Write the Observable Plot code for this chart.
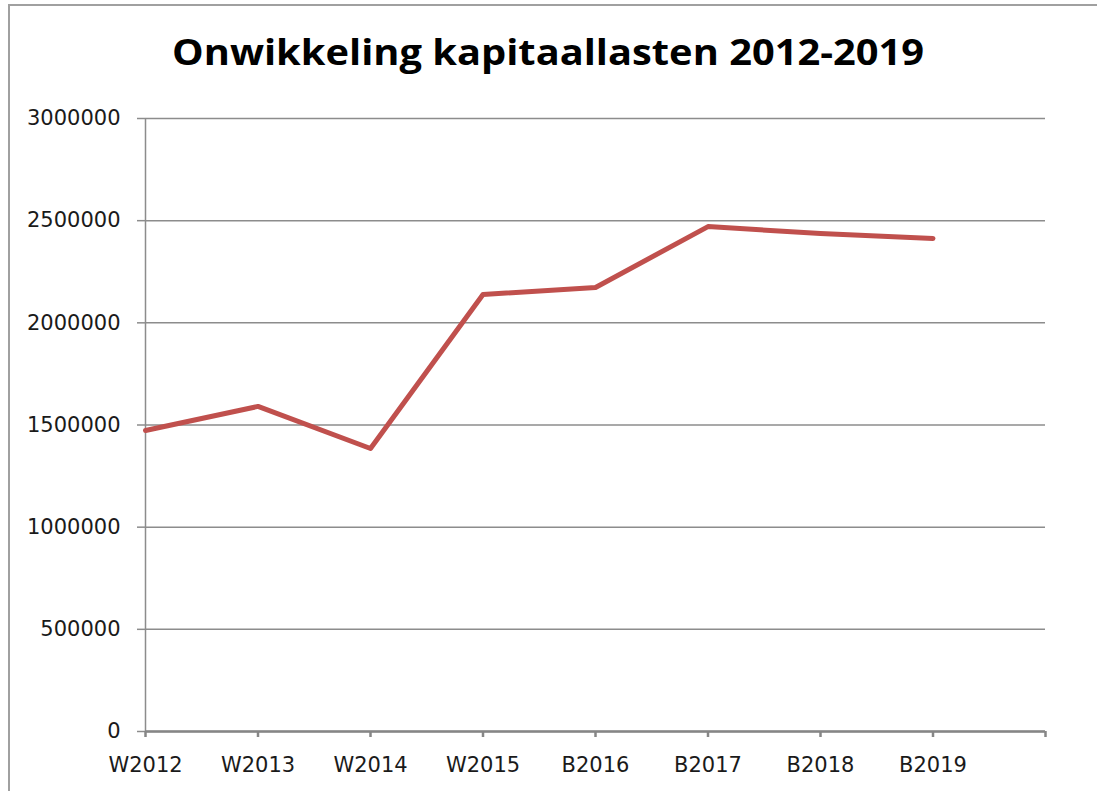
<!DOCTYPE html>
<html><head><meta charset="utf-8">
<script src="https://cdn.jsdelivr.net/npm/d3@7"></script>
<script src="https://cdn.jsdelivr.net/npm/@observablehq/plot@0.6"></script>
<style>
body{margin:0;background:#fff;}
#wrap{position:relative;width:1097px;height:791px;overflow:hidden;background:#fff;}
#frame{position:absolute;left:8px;top:4px;width:1200px;height:900px;border:2px solid #a0a0a0;box-sizing:border-box;}
#title{position:absolute;left:0;top:32px;width:1097px;text-align:center;font-family:"Open Sans",sans-serif;font-weight:700;font-size:36px;line-height:40px;color:#000;white-space:nowrap;}
#title span{display:inline-block;transform-origin:50% 50%;}
#chart{position:absolute;left:0;top:100px;}
</style></head>
<body>
<div id="wrap">
  <div id="frame"></div>
  <div id="title"><span id="tspan">Onwikkeling kapitaallasten 2012-2019</span></div>
  <div id="chart"></div>
</div>
<script>
const categories = ["W2012","W2013","W2014","W2015","B2016","B2017","B2018","B2019"];
const values = [1473000,1591000,1385000,2139000,2173000,2471000,2437000,2413000];
const yTicks = [0,500000,1000000,1500000,2000000,2500000,3000000];
const xTicks = [0,1,2,3,4,5,6,7,8];

const data = categories.map((c,i)=>({i, c, v: values[i]}));

const chart = Plot.plot({
  width:1097, height:691,
  marginLeft:145, marginRight:52, marginTop:18, marginBottom:60,
  style:{fontFamily:"DejaVu Sans", fontSize:"21px", color:"#1a1a1a", background:"transparent", overflow:"visible"},
  x:{domain:[0,8], axis:null},
  y:{domain:[0,3000000], axis:null},
  marks:[
    Plot.gridY(yTicks, {stroke:"#8c8c8c", strokeOpacity:1, strokeWidth:1.5}),
    Plot.ruleX([0], {stroke:"#8c8c8c", strokeWidth:1.5}),
    Plot.ruleY([0], {stroke:"#868686", strokeWidth:2.5}),
    Plot.axisY({ticks:yTicks, tickSize:8, tickPadding:17, tickFormat:d=>String(d), label:null, stroke:"#8c8c8c", strokeWidth:1.5, fill:"#1a1a1a"}),
    Plot.axisX({ticks:xTicks, tickSize:6, tickPadding:20, tickFormat:i=>categories[i] ?? "", label:null, stroke:"#868686", strokeWidth:2.5, fill:"#1a1a1a"}),
    Plot.line(data, {x:"i", y:"v", stroke:"#c0504d", strokeWidth:5, strokeLinejoin:"round", strokeLinecap:"round"})
  ]
});
document.getElementById("chart").appendChild(chart);

const ts = document.getElementById("tspan");
const w = ts.getBoundingClientRect().width;
ts.style.transform = `scaleX(${752/w})`;
</script>
</body></html>
